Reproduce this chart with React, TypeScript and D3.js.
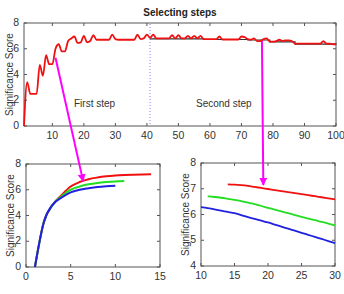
import React, { useEffect, useRef } from "react";
import * as d3 from "d3";

// score after each selection step (step 1..100)
const stepScores = [
  0, 3.4, 2.5, 2.5, 2.5, 4.75, 3.9, 5.5, 4.8, 4.8,
  6.0, 6.35, 5.8, 5.8, 6.6, 6.8, 6.95, 6.45, 6.5, 7.0,
  6.5, 6.6, 7.05, 6.7, 6.7, 6.7, 6.7, 6.7, 7.1, 6.75,
  6.7, 6.7, 6.7, 6.7, 6.7, 6.7, 7.1, 6.75, 6.8, 7.1,
  6.85, 7.1, 6.8, 6.8, 6.8, 6.8, 6.8, 7.05, 6.8, 7.05,
  6.8, 6.8, 7.0, 6.8, 7.0, 6.8, 7.0, 6.75, 6.75, 6.75,
  6.75, 6.75, 6.95, 6.72, 6.72, 6.72, 6.72, 6.72, 6.72, 6.95,
  6.9, 6.75, 6.7, 6.8, 6.6, 6.6, 6.75, 6.8, 6.55, 6.55,
  6.6, 6.7, 6.6, 6.65, 6.65, 6.6, 6.4, 6.4, 6.4, 6.4,
  6.4, 6.4, 6.4, 6.4, 6.4, 6.6, 6.4, 6.4, 6.35, 6.35,
];
const switchStep = 41;

// running level of the second step
const levelSteps = [41, 58, 72, 79, 87, 100];
const levelScores = [6.76, 6.72, 6.68, 6.53, 6.36, 6.32];

// first step curves, starting at x = 1
const firstBlue = [0, 3.5, 4.85, 5.4, 5.8, 6.0, 6.12, 6.22, 6.28, 6.32];
const firstGreen = [0, 3.5, 4.85, 5.5, 6.0, 6.25, 6.42, 6.53, 6.6, 6.65, 6.68];
const firstRed = [0, 3.5, 4.85, 5.6, 6.25, 6.6, 6.82, 6.95, 7.04, 7.1, 7.14, 7.17, 7.19, 7.2];

// second step curves
const secondRedStart = 14;
const secondRed = [7.17, 7.16, 7.14, 7.11, 7.07, 7.03, 6.99, 6.95, 6.91, 6.87, 6.83, 6.79, 6.75, 6.71, 6.67, 6.63, 6.59];
const secondGreenStart = 11;
const secondGreen = [6.7, 6.68, 6.65, 6.61, 6.57, 6.52, 6.46, 6.4, 6.33, 6.26, 6.19, 6.12, 6.05, 5.98, 5.91, 5.84, 5.78, 5.71, 5.65, 5.58];
const secondBlueStart = 10;
const secondBlue = [6.29, 6.25, 6.2, 6.15, 6.1, 6.05, 5.98, 5.9, 5.83, 5.76, 5.69, 5.61, 5.53, 5.45, 5.37, 5.29, 5.21, 5.13, 5.05, 4.97, 4.89];

const topTicksX = [10, 20, 30, 40, 50, 60, 70, 80, 90, 100];
const topTicksY = [0, 2, 4, 6, 8];
const leftTicksX = [0, 5, 10, 15];
const leftTicksY = [0, 2, 4, 6, 8];
const rightTicksX = [10, 15, 20, 25, 30];
const rightTicksY = [4, 5, 6, 7, 8];

const RED = "#f01010";
const GREEN = "#22dd22";
const BLUE = "#2020e0";
const MAGENTA = "#ff00ff";
const FONT = "'Liberation Sans', Arial, sans-serif";

type Panel = {
  left: number; right: number; top: number; bottom: number;
  xDomain: [number, number]; yDomain: [number, number];
  xTicks: number[]; yTicks: number[]; labelX: number;
};

function drawPanel(svg: any, p: Panel) {
  const x = d3.scaleLinear().domain(p.xDomain).range([p.left, p.right]);
  const y = d3.scaleLinear().domain(p.yDomain).range([p.bottom, p.top]);
  const g = svg.append("g");
  g.append("rect")
    .attr("x", p.left).attr("y", p.top)
    .attr("width", p.right - p.left).attr("height", p.bottom - p.top)
    .attr("fill", "white").attr("stroke", "#555").attr("stroke-width", 1);

  // inward ticks on all four sides
  p.xTicks.forEach((t) => {
    g.append("line").attr("x1", x(t)).attr("x2", x(t)).attr("y1", p.bottom).attr("y2", p.bottom - 3).attr("stroke", "#555");
    g.append("line").attr("x1", x(t)).attr("x2", x(t)).attr("y1", p.top).attr("y2", p.top + 3).attr("stroke", "#555");
    g.append("text").attr("x", x(t)).attr("y", p.bottom + 13)
      .attr("text-anchor", "middle").attr("font-size", 10.5).attr("fill", "#333").text(t);
  });
  p.yTicks.forEach((t) => {
    g.append("line").attr("x1", p.left).attr("x2", p.left + 3).attr("y1", y(t)).attr("y2", y(t)).attr("stroke", "#555");
    g.append("line").attr("x1", p.right).attr("x2", p.right - 3).attr("y1", y(t)).attr("y2", y(t)).attr("stroke", "#555");
    g.append("text").attr("x", p.left - 5).attr("y", y(t) + 3)
      .attr("text-anchor", "end").attr("font-size", 10.5).attr("fill", "#333").text(t);
  });
  g.append("text")
    .attr("transform", `translate(${p.labelX},${(p.top + p.bottom) / 2}) rotate(-90)`)
    .attr("text-anchor", "middle").attr("dominant-baseline", "central")
    .attr("font-size", 10).attr("fill", "#333").text("Significance Score");
  return { x, y, g };
}

function addLine(g: any, x: any, y: any, values: number[], start: number, color: string, width: number, curve: any) {
  const line = d3.line<number>()
    .x((_, i) => x(start + i))
    .y((d) => y(d))
    .curve(curve);
  g.append("path").attr("d", line(values)!)
    .attr("fill", "none").attr("stroke", color).attr("stroke-width", width)
    .attr("stroke-linejoin", "round");
}

function arrow(svg: any, x1: number, y1: number, x2: number, y2: number) {
  svg.append("line").attr("x1", x1).attr("y1", y1).attr("x2", x2).attr("y2", y2)
    .attr("stroke", MAGENTA).attr("stroke-width", 2).attr("marker-end", "url(#head)");
}

export default function App() {
  const ref = useRef<SVGSVGElement>(null);

  useEffect(() => {
    const svg = d3.select(ref.current);
    svg.selectAll("*").remove();
    svg.append("defs").append("marker")
      .attr("id", "head").attr("viewBox", "0 0 10 10")
      .attr("refX", 9).attr("refY", 5)
      .attr("markerWidth", 4).attr("markerHeight", 4)
      .attr("orient", "auto")
      .append("path").attr("d", "M0,0 L10,5 L0,10 z").attr("fill", MAGENTA);

    // top: whole selection run
    const top = drawPanel(svg, {
      left: 24, right: 336, top: 23, bottom: 126,
      xDomain: [1, 100], yDomain: [0, 8],
      xTicks: topTicksX, yTicks: topTicksY, labelX: 9,
    });
    top.g.append("line")
      .attr("x1", top.x(switchStep)).attr("x2", top.x(switchStep))
      .attr("y1", 24).attr("y2", 125)
      .attr("stroke", "#8080ff").attr("stroke-width", 1).attr("stroke-dasharray", "1,2");
    const level = d3.line<number>().x((_, i) => top.x(levelSteps[i])).y((d) => top.y(d)).curve(d3.curveStepAfter);
    top.g.append("path").attr("d", level(levelScores)!)
      .attr("fill", "none").attr("stroke", "#333").attr("stroke-width", 1.2);
    addLine(top.g, top.x, top.y, stepScores, 1, RED, 1.8, d3.curveMonotoneX);
    top.g.append("text").attr("x", 74).attr("y", 107).attr("font-size", 10).attr("fill", "#333").text("First step");
    top.g.append("text").attr("x", 196).attr("y", 107).attr("font-size", 10).attr("fill", "#333").text("Second step");

    svg.append("text").attr("x", 180).attr("y", 16).attr("text-anchor", "middle")
      .attr("font-size", 10).attr("font-weight", "bold").attr("fill", "#222").text("Selecting steps");

    // bottom left: first step
    const bl = drawPanel(svg, {
      left: 26, right: 160, top: 164, bottom: 267,
      xDomain: [0, 15], yDomain: [0, 8],
      xTicks: leftTicksX, yTicks: leftTicksY, labelX: 10,
    });
    addLine(bl.g, bl.x, bl.y, firstRed, 1, RED, 2, d3.curveMonotoneX);
    addLine(bl.g, bl.x, bl.y, firstGreen, 1, GREEN, 2, d3.curveMonotoneX);
    addLine(bl.g, bl.x, bl.y, firstBlue, 1, BLUE, 2, d3.curveMonotoneX);

    // bottom right: second step
    const br = drawPanel(svg, {
      left: 201, right: 335, top: 163, bottom: 266,
      xDomain: [10, 30], yDomain: [4, 8],
      xTicks: rightTicksX, yTicks: rightTicksY, labelX: 185,
    });
    addLine(br.g, br.x, br.y, secondRed, secondRedStart, RED, 1.8, d3.curveMonotoneX);
    addLine(br.g, br.x, br.y, secondGreen, secondGreenStart, GREEN, 1.8, d3.curveMonotoneX);
    addLine(br.g, br.x, br.y, secondBlue, secondBlueStart, BLUE, 1.8, d3.curveMonotoneX);

    // arrows linking the run to each step
    arrow(svg, top.x(11), top.y(5.3), bl.x(6.4), bl.y(6.65));
    arrow(svg, top.x(76.5), top.y(6.6), br.x(19.3), br.y(7.15));
  }, []);

  return (
    <svg ref={ref} width={344} height={294}
      style={{ position: "absolute", left: 0, top: 0, background: "white", fontFamily: FONT }} />
  );
}
